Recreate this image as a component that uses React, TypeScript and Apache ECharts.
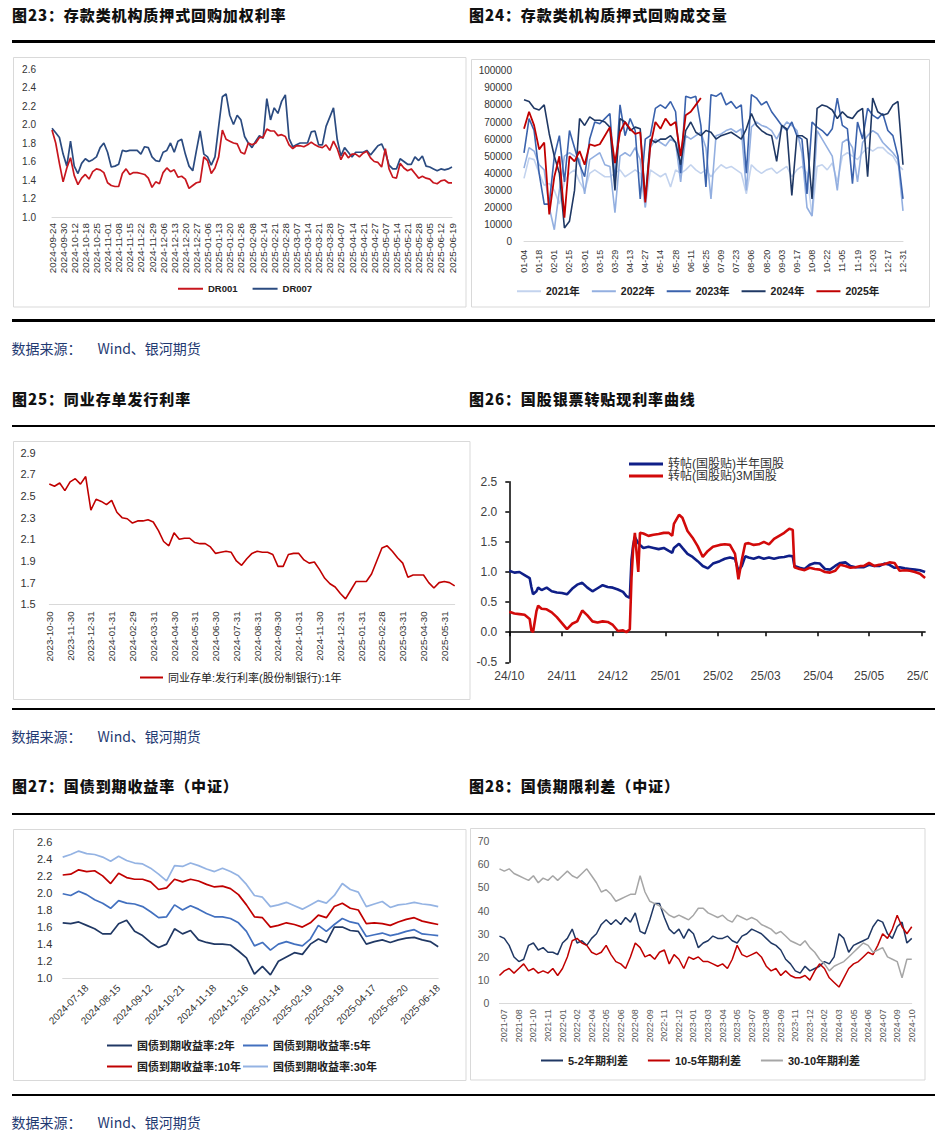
import React, { useEffect, useRef } from "react";
import * as echarts from "echarts";

// ---------- 图23 ----------
const c23Labels = ["2024-09-24","2024-09-30","2024-10-12","2024-10-18","2024-10-25","2024-11-01","2024-11-08","2024-11-15","2024-11-22","2024-11-29","2024-12-06","2024-12-13","2024-12-20","2024-12-27","2025-01-06","2025-01-13","2025-01-20","2025-01-26","2025-02-08","2025-02-14","2025-02-21","2025-02-28","2025-03-07","2025-03-14","2025-03-21","2025-03-28","2025-04-07","2025-04-14","2025-04-21","2025-04-27","2025-05-07","2025-05-14","2025-05-21","2025-05-28","2025-06-05","2025-06-12","2025-06-19"];
const dr007 = [1.96,1.91,1.86,1.68,1.55,1.82,1.55,1.47,1.58,1.63,
 1.60,1.62,1.65,1.75,1.80,1.70,1.54,1.55,1.57,1.72,
 1.71,1.72,1.72,1.72,1.68,1.76,1.75,1.65,1.61,1.60,
 1.70,1.72,1.80,1.70,1.82,1.84,1.68,1.55,1.50,1.72,
 1.93,1.68,1.65,1.56,1.65,1.98,2.30,2.33,2.10,2.00,
 2.10,2.05,1.87,1.80,1.75,1.82,1.88,1.85,2.28,2.05,
 2.18,2.12,2.25,2.32,1.85,1.76,1.78,1.80,1.80,1.80,
 1.92,1.93,1.78,1.78,1.98,2.08,2.18,1.84,1.66,1.75,
 1.70,1.65,1.70,1.70,1.70,1.72,1.67,1.72,1.77,1.79,
 1.70,1.56,1.52,1.52,1.63,1.60,1.57,1.57,1.65,1.61,
 1.66,1.55,1.54,1.52,1.50,1.52,1.51,1.52,1.54];
const dr001 = [1.94,1.80,1.58,1.38,1.53,1.64,1.45,1.35,1.42,1.46,
 1.41,1.49,1.52,1.51,1.48,1.37,1.34,1.33,1.33,1.47,
 1.52,1.46,1.48,1.48,1.47,1.46,1.42,1.32,1.38,1.36,
 1.48,1.53,1.49,1.51,1.43,1.44,1.41,1.31,1.34,1.37,
 1.38,1.65,1.61,1.47,1.53,1.65,1.94,1.84,1.82,1.80,
 1.79,1.70,1.68,1.80,1.78,1.80,1.86,1.86,1.95,1.93,
 1.93,1.88,1.89,1.87,1.78,1.74,1.77,1.77,1.76,1.78,
 1.81,1.78,1.76,1.75,1.78,1.72,1.82,1.74,1.62,1.70,
 1.64,1.68,1.68,1.65,1.69,1.71,1.64,1.60,1.59,1.54,
 1.74,1.52,1.43,1.42,1.58,1.53,1.50,1.52,1.47,1.42,
 1.44,1.42,1.41,1.37,1.36,1.39,1.40,1.37,1.37];

// ---------- 图24 ----------
const c24Labels = ["01-04","01-18","02-01","02-15","03-01","03-15","03-29","04-13","04-27","05-14","05-28","06-11","06-25","07-09","07-23","08-06","08-20","09-03","09-17","10-08","10-22","11-05","11-19","12-03","12-17","12-31"];
const vol2021 = [37000,49000,48000,40000,33000,34000,30000,22000,35000,40000,
 42000,35000,30000,40000,42000,40000,38000,38000,40000,42000,
 38000,40000,42000,40000,20000,42000,40000,38000,40000,32000,
 42000,40000,42000,45000,42000,40000,42000,38000,42000,45000,
 43000,44000,42000,40000,28000,45000,42000,40000,42000,43000,
 40000,42000,44000,38000,42000,44000,40000,15000,44000,45000,
 42000,46000,35000,50000,52000,50000,48000,52000,55000,53000,
 55000,55000,52000,50000,45000,42000];
const vol2022 = [43000,55000,53000,45000,42000,20000,7000,30000,50000,52000,
 50000,48000,28000,48000,50000,52000,45000,44000,17000,50000,
 52000,50000,55000,48000,20000,55000,60000,58000,56000,60000,
 58000,35000,62000,60000,62000,64000,55000,25000,62000,63000,
 65000,66000,64000,66000,30000,67000,70000,68000,67000,65000,
 60000,66000,70000,68000,65000,52000,20000,15000,65000,60000,
 55000,50000,30000,58000,60000,55000,35000,58000,62000,65000,
 63000,58000,55000,52000,48000,18000];
const vol2023 = [52000,72000,65000,40000,22000,22000,50000,62000,35000,65000,
 55000,45000,38000,60000,70000,69000,72000,75000,35000,80000,
 62000,72000,65000,25000,60000,62000,78000,80000,78000,82000,
 76000,40000,85000,84000,85000,68000,32000,86000,85000,87000,
 80000,82000,78000,80000,40000,86000,84000,80000,82000,76000,
 72000,68000,65000,70000,62000,60000,28000,70000,67000,65000,
 62000,66000,84000,68000,66000,34000,70000,60000,78000,74000,
 72000,75000,65000,62000,50000,25000];
const vol2024 = [83000,82000,78000,77000,80000,63000,50000,40000,8000,12000,
 30000,72000,68000,73000,71000,71000,70000,67000,30000,72000,
 70000,65000,67000,66000,25000,60000,58000,60000,60000,62000,
 58000,45000,65000,70000,64000,62000,65000,64000,60000,62000,
 63000,64000,62000,60000,66000,75000,68000,65000,63000,62000,
 47000,68000,66000,27000,62000,62000,60000,25000,78000,80000,
 79000,77000,72000,76000,73000,72000,76000,78000,38000,84000,
 76000,74000,75000,80000,82000,45000];
const vol2025 = [66000,76000,68000,54000,58000,16000,38000,50000,14000,50000,
 47000,53000,45000,57000,56000,57000,62000,67000,46000,64000,
 70000,66000,63000,64000,23000,56000,70000,66000,72000,68000,
 70000,50000,74000,76000,80000,84000];

// ---------- 图25 ----------
const c25Labels = ["2023-10-30","2023-11-30","2023-12-31","2024-01-31","2024-02-29","2024-03-31","2024-04-30","2024-05-31","2024-06-30","2024-07-31","2024-08-31","2024-09-30","2024-10-31","2024-11-30","2024-12-31","2025-01-31","2025-02-28","2025-03-31","2025-04-30","2025-05-31"];
const ncdRate = [2.61,2.59,2.62,2.55,2.63,2.66,2.61,2.68,2.37,2.47,
 2.45,2.42,2.46,2.35,2.30,2.29,2.25,2.27,2.27,2.28,
 2.26,2.18,2.08,2.04,2.16,2.10,2.11,2.11,2.07,2.06,
 2.06,2.03,1.97,1.98,1.99,1.98,1.90,1.86,1.92,1.97,
 1.99,1.98,1.98,1.96,1.85,1.85,1.96,1.97,1.97,1.91,
 1.88,1.89,1.82,1.74,1.69,1.66,1.60,1.55,1.63,1.71,
 1.71,1.71,1.78,1.90,2.02,2.04,1.99,1.93,1.88,1.75,
 1.77,1.77,1.77,1.70,1.65,1.70,1.71,1.70,1.67];
const c25Ticks = [1.5,1.7,1.9,2.1,2.3,2.5,2.7,2.9];

// ---------- 图26 ----------
const c26MonthDays = [0,31,61,92,123,151,182,212,243];
const c26MonthLabels = ["24/10","24/11","24/12","25/01","25/02","25/03","25/04","25/05","25/06"];
const c26Days = [0,3,6,9,12,13,14,16,17,19,22,25,28,31,34,37,40,43,46,49,52,55,58,61,64,67,69,71,72,73,74,76,77,79,82,85,88,91,94,96,97,100,102,105,108,111,114,117,120,124,127,130,133,135,137,139,141,144,147,150,153,156,159,162,165,167,168,171,174,177,180,183,186,189,192,195,198,201,204,207,209,212,215,218,221,224,227,230,233,236,239,242,245];
const halfYear = [1.02,0.99,1.00,0.95,0.90,0.75,0.63,0.68,0.74,0.70,
 0.74,0.68,0.66,0.65,0.63,0.72,0.79,0.82,0.74,0.68,
 0.73,0.78,0.75,0.74,0.71,0.67,0.60,0.57,1.20,1.45,
 1.58,1.48,1.45,1.40,1.42,1.40,1.38,1.40,1.35,1.32,
 1.40,1.47,1.40,1.30,1.25,1.18,1.10,1.06,1.14,1.18,
 1.22,1.24,1.22,1.02,1.10,1.26,1.24,1.22,1.25,1.22,
 1.24,1.22,1.24,1.25,1.27,1.26,1.10,1.07,1.05,1.12,
 1.15,1.14,1.05,1.04,1.10,1.15,1.16,1.10,1.08,1.08,
 1.08,1.12,1.10,1.10,1.14,1.12,1.07,1.08,1.06,1.05,
 1.04,1.03,1.00];
const threeMonth = [0.34,0.31,0.30,0.29,0.22,0.03,0.00,0.35,0.44,0.39,
 0.38,0.33,0.25,0.15,0.05,0.14,0.18,0.36,0.28,0.18,
 0.16,0.18,0.17,0.12,0.02,0.03,0.00,0.05,0.90,1.40,
 1.65,1.00,1.65,1.64,1.60,1.62,1.63,1.65,1.65,1.60,
 1.80,1.95,1.90,1.68,1.57,1.43,1.25,1.35,1.42,1.45,
 1.46,1.45,1.30,0.88,1.20,1.47,1.48,1.45,1.46,1.50,
 1.46,1.55,1.60,1.65,1.72,1.70,1.08,1.05,1.03,1.07,
 1.05,1.04,1.00,0.99,1.02,1.12,1.10,1.07,1.08,1.10,
 1.10,1.15,1.10,1.12,1.13,1.16,1.15,1.02,1.03,1.02,
 1.00,0.97,0.90];

// ---------- 图27 ----------
const c27Labels = ["2024-07-18","2024-08-15","2024-09-12","2024-10-21","2024-11-18","2024-12-16","2025-01-14","2025-02-19","2025-03-19","2025-04-17","2025-05-20","2025-06-18"];
const ytm2 = [1.65,1.64,1.66,1.62,1.58,1.52,1.52,1.64,1.68,1.55,
 1.50,1.42,1.36,1.40,1.58,1.52,1.56,1.45,1.42,1.40,
 1.40,1.39,1.32,1.24,1.05,1.14,1.04,1.20,1.25,1.30,
 1.28,1.40,1.46,1.42,1.60,1.60,1.56,1.55,1.40,1.43,
 1.45,1.42,1.45,1.47,1.48,1.45,1.43,1.37];
const ytm5 = [1.99,1.97,2.02,1.98,1.92,1.88,1.82,1.91,1.88,1.87,
 1.84,1.78,1.71,1.72,1.86,1.80,1.85,1.81,1.76,1.72,
 1.72,1.70,1.65,1.55,1.38,1.42,1.33,1.40,1.43,1.40,
 1.38,1.46,1.62,1.55,1.63,1.70,1.66,1.64,1.49,1.51,
 1.53,1.50,1.52,1.55,1.57,1.52,1.51,1.50];
const ytm10 = [2.21,2.22,2.27,2.25,2.26,2.20,2.11,2.23,2.18,2.16,
 2.16,2.13,2.04,2.06,2.16,2.13,2.16,2.14,2.10,2.07,
 2.08,2.05,1.98,1.86,1.72,1.71,1.60,1.62,1.65,1.63,
 1.60,1.65,1.74,1.71,1.84,1.88,1.82,1.80,1.64,1.65,
 1.64,1.62,1.66,1.69,1.71,1.67,1.65,1.63];
const ytm30 = [2.42,2.45,2.49,2.46,2.45,2.42,2.37,2.43,2.38,2.35,
 2.34,2.29,2.22,2.14,2.32,2.31,2.35,2.32,2.28,2.25,
 2.29,2.25,2.20,2.10,1.97,1.95,1.84,1.86,1.89,1.85,
 1.81,1.86,1.91,1.88,1.97,2.11,2.04,2.01,1.84,1.87,
 1.90,1.83,1.86,1.87,1.89,1.87,1.86,1.84];

// ---------- 图28 ----------
const c28Labels = ["2021-07","2021-08","2021-10","2021-11","2022-01","2022-02","2022-04","2022-05","2022-06","2022-08","2022-09","2022-11","2022-12","2023-01","2023-03","2023-04","2023-05","2023-07","2023-08","2023-09","2023-11","2023-12","2024-02","2024-03","2024-05","2024-06","2024-07","2024-09","2024-10"];
const spread52 = [29,28,25,20,18,19,25,26,23,24,
 22,22,21,26,28,32,26,27,25,28,
 30,34,36,34,36,34,37,35,39,31,
 30,36,43,43,37,32,30,32,28,32,
 30,24,26,27,29,28,28,29,27,26,
 29,30,32,31,30,28,26,25,23,19,
 17,14,13,16,14,15,16,18,17,20,
 30,28,22,25,26,27,28,33,36,35,
 30,28,33,35,26,28];
const spread105 = [12,14,15,13,15,17,14,15,13,14,
 13,15,12,15,20,27,28,26,25,22,
 21,22,25,21,18,17,15,20,26,24,
 20,21,19,22,23,17,21,19,15,20,
 19,20,18,18,17,16,17,15,19,25,
 21,20,21,22,20,16,14,15,12,14,
 12,11,11,12,10,14,17,15,11,9,
 7,11,15,17,18,20,22,21,25,30,
 28,32,38,33,30,33];
const spread3010 = [58,57,58,56,55,54,53,55,52,54,
 53,55,53,55,57,55,54,56,58,55,
 52,48,49,47,44,45,46,47,47,55,
 48,44,43,42,40,38,37,38,37,36,
 38,41,41,39,38,37,38,36,35,38,
 37,36,37,36,34,33,32,30,31,29,
 27,26,25,27,24,22,19,17,14,16,
 17,18,20,22,24,26,25,22,23,24,
 20,19,18,11,19,19];

// ---------- helpers ----------
const F = "'Liberation Sans', Arial, 'Noto Sans CJK SC', sans-serif";
const FCJK = "'Liberation Sans', 'Noto Sans CJK SC', sans-serif";

function buildCats(labels: string[], per: number, offset: number, total: number): string[] {
  const out: string[] = [];
  for (let i = 0; i < total; i++) {
    const k = i - offset;
    out.push(k >= 0 && k % per === 0 && k / per < labels.length ? labels[k / per] : "");
  }
  return out;
}

const cats23 = buildCats(c23Labels, 3, 0, dr007.length);
const cats24 = buildCats(c24Labels, 3, 0, vol2021.length);
const cats25 = buildCats(c25Labels, 4, 0, ncdRate.length);
const cats27 = buildCats(c27Labels, 4, 3, ytm2.length);
const cats28 = buildCats(c28Labels, 3, 1, spread52.length);

const fix1 = (v: number) => v.toFixed(1);
const plain = (v: number) => String(v);

function catAxis(gridIndex: number, data: string[], fontSize: number, rotate: number, margin: number, color = "#333") {
  return {
    type: "category", gridIndex, data, boundaryGap: false,
    axisLine: { show: true, lineStyle: { color: "#d9d9d9", width: 1 } },
    axisTick: { show: false },
    splitLine: { show: false },
    axisLabel: { interval: 0, rotate, fontSize, color, margin, fontFamily: F },
  };
}
function valAxis(gridIndex: number, min: number, max: number, interval: number, fontSize: number, margin: number, color = "#333", formatter?: any) {
  return {
    type: "value", gridIndex, min, max, interval,
    axisLine: { show: false }, axisTick: { show: false }, splitLine: { show: false },
    axisLabel: { fontSize, color, margin, fontFamily: F, formatter },
  };
}
function line(name: string, xi: number, yi: number, data: any[], color: string, width: number) {
  return {
    type: "line", name, xAxisIndex: xi, yAxisIndex: yi, data, showSymbol: false, symbol: "none",
    lineStyle: { color, width }, itemStyle: { color }, smooth: false, silent: true,
  };
}
function legend(data: string[], left: number, top: number, extra: any = {}) {
  return {
    data, left, top, padding: 0, icon: "rect", itemWidth: 25, itemHeight: 2, itemGap: 12,
    selectedMode: false,
    textStyle: { fontSize: 10, fontWeight: "bold", color: "#222", fontFamily: FCJK },
    ...extra,
  };
}
function box(x: number, y: number, w: number, h: number) {
  return { type: "rect", silent: true, z: -10, shape: { x, y, width: w, height: h }, style: { fill: "none", stroke: "#d9d9d9", lineWidth: 1 } };
}

const C = {
  red: "#c8161e", navy23: "#2b4b80",
  y21: "#c3d3ee", y22: "#93afe0", y23: "#3a62ac", y24: "#1f3864", y25: "#c00000",
  navy26: "#0f1f88", red26: "#d20a0a",
  t2: "#203864", t5: "#4270bf", t10: "#c00000", t30: "#94b3e3",
  s52: "#203864", s105: "#c00000", s3010: "#a6a6a6",
};

const option: any = {
  animation: false,
  backgroundColor: "transparent",
  grid: [
    { left: 52, top: 69, width: 400, height: 148 },
    { left: 524, top: 70.7, width: 379, height: 171 },
    { left: 49.3, top: 452.7, width: 405.4, height: 151.6 },
    { left: 509.3, top: 481.7, width: 415.8, height: 180.6 },
    { left: 62.7, top: 841.7, width: 375.5, height: 136.6 },
    { left: 499.45, top: 841, width: 412.3, height: 162.3 },
  ],
  xAxis: [
    catAxis(0, cats23, 9.8, 90, 6),
    catAxis(1, cats24, 9, 90, 8),
    catAxis(2, cats25, 9.8, 90, 7),
    {
      type: "value", gridIndex: 3, min: 0, max: 245, position: "bottom",
      axisLine: { show: true, onZero: true, lineStyle: { color: "#000", width: 1.5 } },
      axisTick: { show: true, customValues: c26MonthDays, length: 4, lineStyle: { color: "#000", width: 1.5 } },
      axisLabel: { show: false }, splitLine: { show: false },
    },
    {
      type: "value", gridIndex: 3, min: 0, max: 245, position: "bottom",
      axisLine: { show: false, onZero: false }, axisTick: { show: false }, splitLine: { show: false },
      axisLabel: {
        show: true, customValues: c26MonthDays, fontSize: 12, color: "#404040", margin: 8, fontFamily: F,
        formatter: (v: number) => { const i = c26MonthDays.indexOf(Math.round(v)); return i >= 0 ? c26MonthLabels[i] : ""; },
      },
    },
    catAxis(4, cats27, 10, 45, 8),
    catAxis(5, cats28, 9, 90, 6, "#595959"),
  ],
  yAxis: [
    valAxis(0, 1.0, 2.6, 0.2, 10, 16, "#333", fix1),
    valAxis(1, 0, 100000, 10000, 10, 12, "#333", plain),
    {
      type: "value", gridIndex: 2, min: 1.5, max: 2.9,
      axisLine: { show: false }, axisTick: { show: false }, splitLine: { show: false },
      axisLabel: { customValues: c25Ticks, fontSize: 11, color: "#333", margin: 13.6, fontFamily: F, formatter: fix1 },
    },
    {
      type: "value", gridIndex: 3, min: -0.5, max: 2.5, interval: 0.5,
      axisLine: { show: true, onZero: false, lineStyle: { color: "#000", width: 1.5 } },
      axisTick: { show: true, length: 4, lineStyle: { color: "#000", width: 1.5 } },
      splitLine: { show: false },
      axisLabel: { fontSize: 12, color: "#404040", margin: 12, fontFamily: F, formatter: fix1 },
    },
    valAxis(4, 1.0, 2.6, 0.2, 11, 10.4, "#333", fix1),
    valAxis(5, 0, 70, 10, 10.5, 10, "#595959", plain),
  ],
  legend: [
    legend(["DR001", "DR007"], 178, 284, { itemGap: 15, textStyle: { fontSize: 9.5, fontWeight: "bold", color: "#222", fontFamily: F } }),
    legend(["2021年", "2022年", "2023年", "2024年", "2025年"], 517, 286, { itemWidth: 24, textStyle: { fontSize: 10.5, fontWeight: "bold", color: "#222", fontFamily: FCJK } }),
    legend(["同业存单:发行利率(股份制银行):1年"], 140, 672, { itemWidth: 23, textStyle: { fontSize: 11, color: "#222", fontFamily: FCJK } }),
    legend(["转帖(国股贴)半年国股", "转帖(国股贴)3M国股"], 629, 458, { orient: "vertical", itemWidth: 34, itemHeight: 3, itemGap: 0, textStyle: { fontSize: 12, color: "#333", fontFamily: FCJK } }),
    legend(["国债到期收益率:2年"], 107, 1040, { textStyle: { fontSize: 11, fontWeight: "bold", color: "#222", fontFamily: FCJK } }),
    legend(["国债到期收益率:5年"], 243, 1040, { textStyle: { fontSize: 11, fontWeight: "bold", color: "#222", fontFamily: FCJK } }),
    legend(["国债到期收益率:10年"], 107, 1061, { textStyle: { fontSize: 11, fontWeight: "bold", color: "#222", fontFamily: FCJK } }),
    legend(["国债到期收益率:30年"], 243, 1061, { textStyle: { fontSize: 11, fontWeight: "bold", color: "#222", fontFamily: FCJK } }),
    legend(["5-2年期利差", "10-5年期利差", "30-10年期利差"], 541, 1055, { itemWidth: 22, itemGap: 20, textStyle: { fontSize: 11, fontWeight: "bold", color: "#222", fontFamily: FCJK } }),
  ],
  graphic: [
    box(13.5, 57.5, 452.5, 249.5),
    box(471.5, 59.5, 458, 247.5),
    box(13.5, 441.5, 456.5, 258),
    box(13.5, 829.5, 452.5, 251),
    box(470.5, 828.5, 454.5, 251.5),
  ],
  series: [
    line("DR007", 0, 0, dr007, C.navy23, 1.7),
    line("DR001", 0, 0, dr001, C.red, 1.7),
    line("2021年", 1, 1, vol2021, C.y21, 1.6),
    line("2022年", 1, 1, vol2022, C.y22, 1.6),
    line("2023年", 1, 1, vol2023, C.y23, 1.6),
    line("2024年", 1, 1, vol2024, C.y24, 1.6),
    line("2025年", 1, 1, vol2025, C.y25, 1.8),
    line("同业存单:发行利率(股份制银行):1年", 2, 2, ncdRate, "#c00000", 1.6),
    line("转帖(国股贴)半年国股", 3, 3, c26Days.map((d, i) => [d, halfYear[i]]), C.navy26, 2.6),
    line("转帖(国股贴)3M国股", 3, 3, c26Days.map((d, i) => [d, threeMonth[i]]), C.red26, 2.6),
    line("国债到期收益率:2年", 5, 4, ytm2, C.t2, 1.7),
    line("国债到期收益率:5年", 5, 4, ytm5, C.t5, 1.7),
    line("国债到期收益率:10年", 5, 4, ytm10, C.t10, 1.7),
    line("国债到期收益率:30年", 5, 4, ytm30, C.t30, 1.7),
    line("5-2年期利差", 6, 5, spread52, C.s52, 1.5),
    line("10-5年期利差", 6, 5, spread105, C.s105, 1.5),
    line("30-10年期利差", 6, 5, spread3010, C.s3010, 1.5),
  ],
};

const titles = [
  { text: "图23：存款类机构质押式回购加权利率", x: 12, y: 15 },
  { text: "图24：存款类机构质押式回购成交量", x: 469, y: 15 },
  { text: "图25：同业存单发行利率", x: 12, y: 398.5 },
  { text: "图26：国股银票转贴现利率曲线", x: 469, y: 398.5 },
  { text: "图27：国债到期收益率（中证）", x: 12, y: 786 },
  { text: "图28：国债期限利差（中证）", x: 469, y: 786 },
];
const rules = [40, 319.3, 424.5, 707.5, 812.7, 1093.5];
const sources = [348, 736, 1122];

export default function App() {
  const ref = useRef<HTMLDivElement>(null);
  useEffect(() => {
    const chart = echarts.init(ref.current!, undefined, { renderer: "svg" });
    chart.setOption(option);
    return () => chart.dispose();
  }, []);
  return (
    <div style={{ position: "absolute", left: 0, top: 0, width: 946, height: 1146, background: "#fff", overflow: "hidden" }}>
      <div ref={ref} style={{ position: "absolute", left: 0, top: 0, width: 946, height: 1146 }} />
      {titles.map((t, i) => (
        <div key={"t" + i} style={{ position: "absolute", left: t.x, top: t.y - 11, height: 22, lineHeight: "22px", fontSize: 15, fontWeight: 900, letterSpacing: "0.9px", fontFamily: "'Noto Sans CJK SC', sans-serif", color: "#111", whiteSpace: "nowrap" }}>{t.text}</div>
      ))}
      {rules.map((y, i) => (
        <div key={"r" + i} style={{ position: "absolute", left: 12, top: y, width: 923, height: 2.5, background: "#000" }} />
      ))}
      {sources.map((y, i) => (
        <div key={"s" + i} style={{ position: "absolute", left: 11.5, top: y - 10, height: 20, lineHeight: "20px", fontSize: 14, fontFamily: "'Noto Sans CJK SC', sans-serif", color: "#1f3a72", whiteSpace: "nowrap" }}>
          数据来源：<span style={{ marginLeft: 16 }}>Wind、银河期货</span>
        </div>
      ))}
      <div style={{ position: "absolute", left: 928, top: 664, width: 18, height: 26, background: "#fff" }} />
    </div>
  );
}
